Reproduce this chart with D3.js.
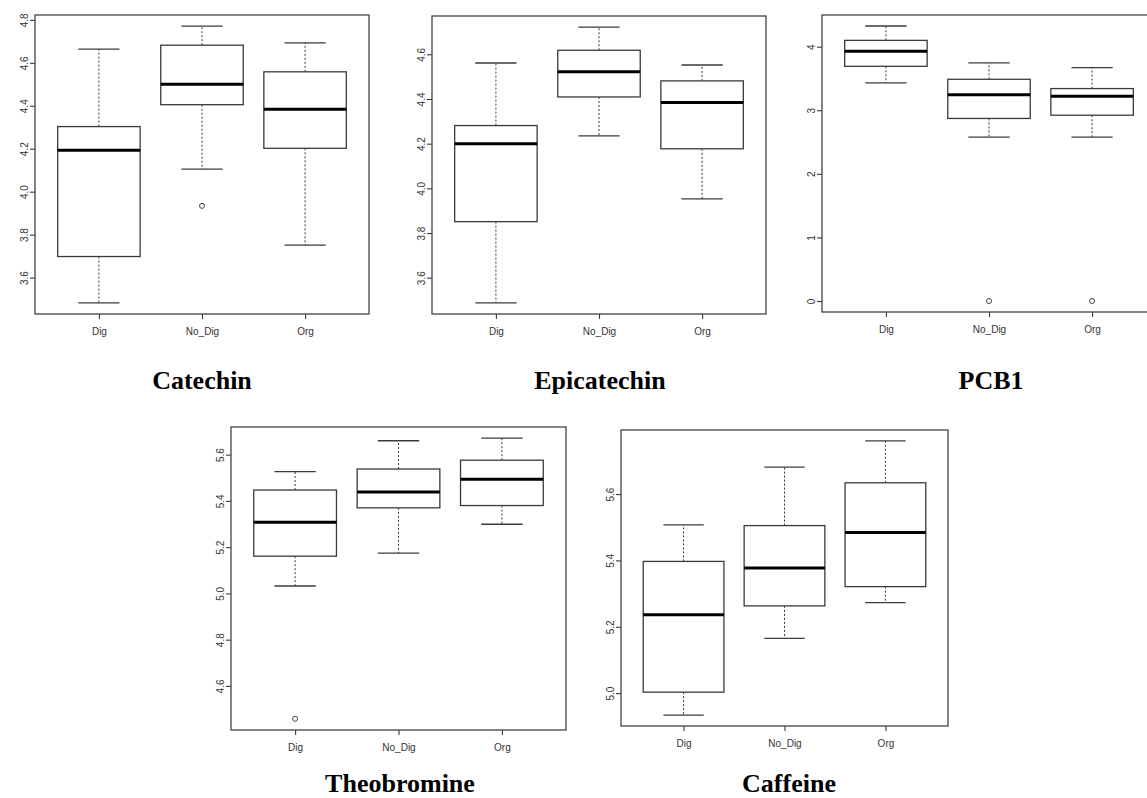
<!DOCTYPE html>
<html>
<head>
<meta charset="utf-8">
<script src="https://cdn.jsdelivr.net/npm/d3@7/dist/d3.min.js"></script>
<style>
  html, body { margin: 0; padding: 0; background: #fff; }
  svg { display: block; }
</style>
</head>
<body>
<svg id="chart" width="1147" height="798"></svg>
<script>
// ---- Data ----
const groups = ["Dig", "No_Dig", "Org"];

// each row: [lower whisker, Q1, median, Q3, upper whisker]
const catechinStats = [
  [3.482, 3.698, 4.193, 4.303, 4.664],
  [4.105, 4.405, 4.500, 4.682, 4.771],
  [3.751, 4.202, 4.384, 4.558, 4.693]
];
const catechinOutliers = [[], [3.934], []];
const catechinTicks = [3.6, 3.8, 4.0, 4.2, 4.4, 4.6, 4.8];

const epicatechinStats = [
  [3.487, 3.851, 4.200, 4.281, 4.561],
  [4.235, 4.409, 4.522, 4.618, 4.722],
  [3.953, 4.177, 4.384, 4.481, 4.552]
];
const epicatechinOutliers = [[], [], []];
const epicatechinTicks = [3.6, 3.8, 4.0, 4.2, 4.4, 4.6];

const pcb1Stats = [
  [3.431, 3.691, 3.926, 4.099, 4.325],
  [2.577, 2.871, 3.242, 3.487, 3.744],
  [2.577, 2.922, 3.220, 3.341, 3.671]
];
const pcb1Outliers = [[], [0], [0]];
const pcb1Ticks = [0, 1, 2, 3, 4];

const theobromineStats = [
  [5.032, 5.161, 5.308, 5.447, 5.527],
  [5.174, 5.370, 5.439, 5.538, 5.660],
  [5.299, 5.380, 5.494, 5.576, 5.671]
];
const theobromineOutliers = [[4.458], [], []];
const theobromineTicks = [4.6, 4.8, 5.0, 5.2, 5.4, 5.6];

const caffeineStats = [
  [4.934, 5.003, 5.236, 5.397, 5.507],
  [5.165, 5.263, 5.377, 5.505, 5.681],
  [5.273, 5.321, 5.484, 5.634, 5.760]
];
const caffeineOutliers = [[], [], []];
const caffeineTicks = [5.0, 5.2, 5.4, 5.6];

const titles = ["Catechin", "Epicatechin", "PCB1", "Theobromine", "Caffeine"];

// ---- Layout (positions only) ----
const panels = [
  { title: titles[0], stats: catechinStats, out: catechinOutliers, ticks: catechinTicks, fmt: ".1f",
    x0: 35, x1: 369, y0: 15, y1: 314, tx: 202, ty: 389 },
  { title: titles[1], stats: epicatechinStats, out: epicatechinOutliers, ticks: epicatechinTicks, fmt: ".1f",
    x0: 432, x1: 766, y0: 16, y1: 314, tx: 600, ty: 389 },
  { title: titles[2], stats: pcb1Stats, out: pcb1Outliers, ticks: pcb1Ticks, fmt: "d",
    x0: 822, x1: 1156, y0: 15, y1: 312, tx: 991, ty: 389 },
  { title: titles[3], stats: theobromineStats, out: theobromineOutliers, ticks: theobromineTicks, fmt: ".1f",
    x0: 231, x1: 566, y0: 427, y1: 730, tx: 400, ty: 792 },
  { title: titles[4], stats: caffeineStats, out: caffeineOutliers, ticks: caffeineTicks, fmt: ".1f",
    x0: 621, x1: 948, y0: 430, y1: 726, tx: 789, ty: 792 }
];

const svg = d3.select("#chart");
const lineCol = "#3a3a3a";
const axisFont = "Liberation Sans, Arial, sans-serif";

panels.forEach(p => {
  const g = svg.append("g");
  const allVals = p.stats.flat().concat(p.out.flat());
  const lo = d3.min(allVals), hi = d3.max(allVals);
  const ext = (hi - lo) * 0.04;
  const y = d3.scaleLinear().domain([lo - ext, hi + ext]).range([p.y1, p.y0]);
  const n = groups.length;
  const x = d3.scaleLinear().domain([0.5 - 0.04 * n, n + 0.5 + 0.04 * n]).range([p.x0, p.x1]);
  const unit = x(1) - x(0);
  const boxHalf = 0.4 * unit;
  const capHalf = 0.2 * unit;

  // axes
  const yAxis = d3.axisLeft(y).tickValues(p.ticks).tickSize(5).tickPadding(3)
    .tickFormat(d3.format(p.fmt));
  const ya = g.append("g").attr("transform", `translate(${p.x0},0)`).call(yAxis);
  ya.select(".domain").remove();
  ya.selectAll(".tick line").attr("stroke", lineCol).attr("stroke-width", 1.1);
  ya.selectAll(".tick text")
    .attr("font-family", axisFont).attr("font-size", 10).attr("fill", "#333")
    .attr("x", null).attr("dy", null)
    .attr("text-anchor", "middle")
    .attr("dominant-baseline", "central")
    .attr("transform", "translate(-11,0) rotate(-90)");

  const xAxis = d3.axisBottom(x).tickValues(groups.map((d, i) => i + 1)).tickSize(5).tickPadding(9)
    .tickFormat((d, i) => groups[i]);
  const xa = g.append("g").attr("transform", `translate(0,${p.y1})`).call(xAxis);
  xa.select(".domain").remove();
  xa.selectAll(".tick line").attr("stroke", lineCol).attr("stroke-width", 1.1);
  xa.selectAll(".tick text")
    .attr("font-family", axisFont).attr("font-size", 10).attr("fill", "#333");

  // boxes
  p.stats.forEach((s, i) => {
    const cx = x(i + 1);
    const [wl, q1, md, q3, wh] = s;
    // whiskers (dashed)
    g.append("line").attr("x1", cx).attr("x2", cx).attr("y1", y(q3)).attr("y2", y(wh))
      .attr("stroke", lineCol).attr("stroke-width", 1).attr("stroke-dasharray", "2,2");
    g.append("line").attr("x1", cx).attr("x2", cx).attr("y1", y(q1)).attr("y2", y(wl))
      .attr("stroke", lineCol).attr("stroke-width", 1).attr("stroke-dasharray", "2,2");
    // caps
    [wl, wh].forEach(v => {
      g.append("line").attr("x1", cx - capHalf).attr("x2", cx + capHalf).attr("y1", y(v)).attr("y2", y(v))
        .attr("stroke", lineCol).attr("stroke-width", 1.3);
    });
    // box
    g.append("rect").attr("x", cx - boxHalf).attr("width", 2 * boxHalf)
      .attr("y", y(q3)).attr("height", y(q1) - y(q3))
      .attr("fill", "#fff").attr("stroke", lineCol).attr("stroke-width", 1.3);
    // median
    g.append("line").attr("x1", cx - boxHalf).attr("x2", cx + boxHalf).attr("y1", y(md)).attr("y2", y(md))
      .attr("stroke", "#000").attr("stroke-width", 3);
    // outliers
    p.out[i].forEach(v => {
      g.append("circle").attr("cx", cx).attr("cy", y(v)).attr("r", 2.5)
        .attr("fill", "none").attr("stroke", "#444").attr("stroke-width", 1);
    });
  });

  // frame
  g.append("rect").attr("x", p.x0).attr("y", p.y0).attr("width", p.x1 - p.x0).attr("height", p.y1 - p.y0)
    .attr("fill", "none").attr("stroke", "#444").attr("stroke-width", 1.3);

  // title
  svg.append("text").attr("x", p.tx).attr("y", p.ty).attr("text-anchor", "middle")
    .attr("font-family", "Liberation Serif, 'Times New Roman', serif").attr("font-weight", "bold")
    .attr("font-size", 26).attr("fill", "#000").text(p.title);
});
</script>
</body>
</html>
